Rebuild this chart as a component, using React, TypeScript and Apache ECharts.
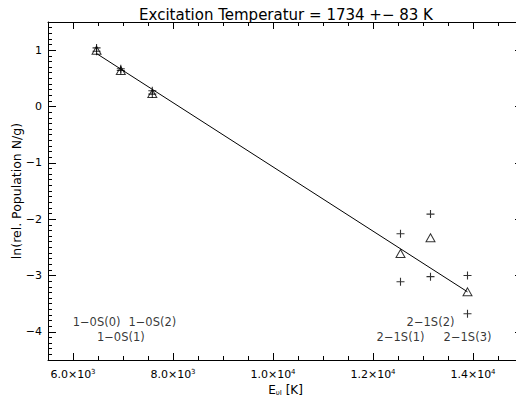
import React, { useEffect, useRef } from "react";
import * as echarts from "echarts";

const energies = [6471, 6956, 7586, 12550, 13150, 13890];
const lineNames = ["1−0S(0)", "1−0S(1)", "1−0S(2)", "2−1S(1)", "2−1S(2)", "2−1S(3)"];
const triangleValues = [1.0, 0.64, 0.23, -2.61, -2.33, -3.29];
const plusUpper = [1.04, 0.67, 0.28, -2.26, -1.91, -3.0];
const plusLower = [0.98, 0.64, 0.22, -3.11, -3.02, -3.68];
const labelY = [-3.82, -4.09, -3.82, -4.09, -3.82, -4.09];
const fitX = [6471, 13890];
const fitY = [0.94, -3.29];
const xMajorTicks = [6000, 8000, 10000, 12000, 14000];
const yMajorTicks = [-4, -3, -2, -1, 0, 1];

const FONT = "DejaVu Sans";
const PLUS = "path://M4,0L4,8M0,4L8,4";

function fmtX(v: number) {
  const e = Math.floor(Math.log10(v) + 1e-9);
  const m = (v / Math.pow(10, e)).toFixed(1);
  return `${m}×10{sup|${e}}`;
}

export default function App() {
  const ref = useRef<HTMLDivElement>(null);
  useEffect(() => {
    if (!ref.current) return;
    const chart = echarts.init(ref.current, null, { renderer: "svg" });
    const black = "#000";
    const xBase = { type: "value", min: 5500, max: 15000, gridIndex: 0 };
    const yBase = { type: "value", min: -4.5, max: 1.5, gridIndex: 0 };
    const hiddenLabel = { show: false };
    const line = { show: true, onZero: false, lineStyle: { color: black, width: 1 } };
    const noLine = { show: false, onZero: false };
    const option: any = {
      animation: false,
      backgroundColor: "#fff",
      title: {
        text: "Excitation Temperatur = 1734 +− 83 K",
        left: 281,
        textAlign: "center",
        top: 2,
        textStyle: { fontFamily: FONT, fontSize: 15, fontWeight: "normal", color: black, lineHeight: 16 },
      },
      grid: { left: 48, right: 1, top: 22, bottom: 43, containLabel: false, outerBoundsMode: "none" },
      xAxis: [
        {
          ...xBase,
          position: "bottom",
          interval: 500,
          axisLine: line,
          axisTick: { show: true, inside: true, length: 4, lineStyle: { color: black } },
          splitLine: { show: false },
          axisLabel: {
            show: true,
            customValues: xMajorTicks,
            formatter: (v: number) => fmtX(v),
            margin: 8,
            color: black,
            fontFamily: FONT,
            fontSize: 11,
            rich: { sup: { fontSize: 7, fontFamily: FONT, color: black, padding: [0, 0, 6, 0] } },
          },
          name: "E{sub|υJ} [K]",
          nameLocation: "middle",
          nameGap: 24,
          nameMoveOverlap: false,
          nameTextStyle: {
            fontFamily: FONT,
            fontSize: 12,
            color: black,
            rich: { sub: { fontSize: 7, fontFamily: FONT, color: black, padding: [5, 0, 0, 0] } },
          },
        },
        {
          ...xBase,
          position: "bottom",
          axisLine: noLine,
          axisTick: { show: true, inside: true, length: 7, customValues: xMajorTicks, lineStyle: { color: black } },
          splitLine: { show: false },
          axisLabel: hiddenLabel,
        },
        {
          ...xBase,
          position: "top",
          interval: 500,
          axisLine: line,
          axisTick: { show: true, inside: true, length: 4, lineStyle: { color: black } },
          splitLine: { show: false },
          axisLabel: hiddenLabel,
        },
        {
          ...xBase,
          position: "top",
          axisLine: noLine,
          axisTick: { show: true, inside: true, length: 7, customValues: xMajorTicks, lineStyle: { color: black } },
          splitLine: { show: false },
          axisLabel: hiddenLabel,
        },
      ],
      yAxis: [
        {
          ...yBase,
          position: "left",
          interval: 0.1,
          axisLine: line,
          axisTick: { show: true, inside: true, length: 4, lineStyle: { color: black } },
          splitLine: { show: false },
          axisLabel: {
            show: true,
            customValues: yMajorTicks,
            formatter: (v: number) => (v < 0 ? "−" + Math.abs(v) : String(v)),
            margin: 6,
            color: black,
            fontFamily: FONT,
            fontSize: 11,
          },
          name: "ln(rel. Population N/g)",
          nameLocation: "middle",
          nameGap: 25,
          nameMoveOverlap: false,
          nameTextStyle: { fontFamily: FONT, fontSize: 12.5, color: black },
        },
        {
          ...yBase,
          position: "left",
          axisLine: noLine,
          axisTick: { show: true, inside: true, length: 8, customValues: yMajorTicks, lineStyle: { color: black } },
          splitLine: { show: false },
          axisLabel: hiddenLabel,
        },
        {
          ...yBase,
          position: "right",
          interval: 0.1,
          axisLine: line,
          axisTick: { show: true, inside: true, length: 4, lineStyle: { color: black } },
          splitLine: { show: false },
          axisLabel: hiddenLabel,
        },
        {
          ...yBase,
          position: "right",
          axisLine: noLine,
          axisTick: { show: true, inside: true, length: 8, customValues: yMajorTicks, lineStyle: { color: black } },
          splitLine: { show: false },
          axisLabel: hiddenLabel,
        },
      ],
      series: [
        {
          type: "line",
          data: fitX.map((x, i) => [x, fitY[i]]),
          symbol: "none",
          lineStyle: { color: black, width: 1 },
          xAxisIndex: 0,
          yAxisIndex: 0,
          z: 2,
        },
        {
          type: "scatter",
          data: energies.map((x, i) => [x, triangleValues[i]]),
          symbol: "triangle",
          symbolSize: [9, 8],
          itemStyle: { color: "rgba(0,0,0,0)", borderColor: black, borderWidth: 1 },
          z: 3,
        },
        {
          type: "scatter",
          data: energies.map((x, i) => [x, plusUpper[i]]),
          symbol: PLUS,
          symbolSize: 8,
          itemStyle: { color: "rgba(0,0,0,0)", borderColor: black, borderWidth: 1.1 },
          z: 3,
        },
        {
          type: "scatter",
          data: energies.map((x, i) => [x, plusLower[i]]),
          symbol: PLUS,
          symbolSize: 8,
          itemStyle: { color: "rgba(0,0,0,0)", borderColor: black, borderWidth: 1.1 },
          z: 3,
        },
        {
          type: "scatter",
          data: energies.map((x, i) => ({ value: [x, labelY[i]], name: lineNames[i] })),
          symbol: "circle",
          symbolSize: 1,
          itemStyle: { color: "rgba(0,0,0,0)" },
          label: {
            show: true,
            position: "inside",
            formatter: (p: any) => p.name,
            color: black,
            fontFamily: FONT,
            fontSize: 11.5,
          },
          z: 4,
        },
      ],
    };
    chart.setOption(option);
    return () => chart.dispose();
  }, []);
  return <div ref={ref} style={{ width: 524, height: 403, margin: -8 }} />;
}
